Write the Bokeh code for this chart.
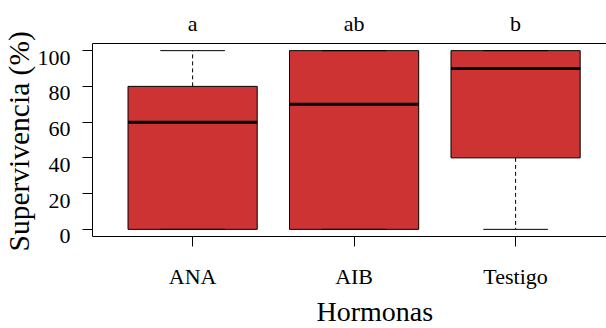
from bokeh.embed import file_html
from bokeh.models import ColumnDataSource, FixedTicker, LinearAxis, Range1d, Title
from bokeh.plotting import figure
from bokeh.resources import INLINE

# Survival (%) by hormone treatment: five-number summaries per group
hormonas = ["ANA", "AIB", "Testigo"]
letras = ["a", "ab", "b"]
minimo = [0, 0, 0]
q1 = [0, 0, 40]
mediana = [60, 70, 90]
q3 = [80, 100, 100]
maximo = [100, 100, 100]
y_ticks = [0, 20, 40, 60, 80, 100]

FONT = "Liberation Serif"
FILL = "#CD3333"
BOX_W = 0.8
STAPLE_W = 0.4

pos = list(range(1, len(hormonas) + 1))
X0, X1 = 0.38, 3.563
Y0, Y1 = -4, 104
FRAME_H = 193
LABEL_DROP = 7 * (Y1 - Y0) / FRAME_H   # y tick labels sit a little below their ticks

p = figure(
    width=606, height=328, output_backend="svg", toolbar_location=None,
    x_range=Range1d(X0, X1), y_range=Range1d(Y0, Y1),
    x_axis_location=None, y_axis_location=None,
    min_border_left=92, min_border_right=0, min_border_top=43, min_border_bottom=92,
)
p.extra_y_ranges = {"lab": Range1d(Y0 + LABEL_DROP, Y1 + LABEL_DROP)}
p.xgrid.visible = False
p.ygrid.visible = False
p.outline_line_color = None
p.background_fill_color = "white"
p.border_fill_color = "white"

src = ColumnDataSource(dict(
    x=pos, lo=minimo, q1=q1, med=mediana, q3=q3, hi=maximo,
    bl=[x - BOX_W / 2 for x in pos], br=[x + BOX_W / 2 for x in pos],
    sl=[x - STAPLE_W / 2 for x in pos], sr=[x + STAPLE_W / 2 for x in pos],
))

# whiskers (dashed)
p.segment(x0="x", y0="q3", x1="x", y1="hi", source=src,
          line_color="black", line_width=1, line_dash="4 3")
p.segment(x0="x", y0="q1", x1="x", y1="lo", source=src,
          line_color="black", line_width=1, line_dash="4 3")
# boxes
p.vbar(x="x", width=BOX_W, bottom="q1", top="q3", source=src,
       fill_color=FILL, line_color="black", line_width=1)
# medians
p.segment(x0="bl", y0="med", x1="br", y1="med", source=src,
          line_color="black", line_width=3)
# staples
p.segment(x0="sl", y0="hi", x1="sr", y1="hi", source=src,
          line_color="black", line_width=1)
p.segment(x0="sl", y0="lo", x1="sr", y1="lo", source=src,
          line_color="black", line_width=1)

no_minor = dict(minor_tick_out=0, minor_tick_in=0)

# left: frame line + tick marks (labels not drawn)
ax_ticks = LinearAxis(ticker=FixedTicker(ticks=y_ticks),
                      major_tick_out=10, major_tick_in=0, major_label_standoff=0,
                      major_label_text_font_size="1px", major_label_text_color=None,
                      axis_line_color="black", major_tick_line_color="black", **no_minor)
p.add_layout(ax_ticks, "left")

# left: tick labels on the slightly dropped range
ax_labels = LinearAxis(y_range_name="lab", ticker=FixedTicker(ticks=y_ticks),
                       major_tick_out=0, major_tick_in=0, major_label_standoff=12,
                       major_label_text_font=FONT, major_label_text_font_size="22px",
                       major_label_text_color="black",
                       axis_line_color=None, major_tick_line_color=None, **no_minor)
p.add_layout(ax_labels, "left")

# bottom: frame line, ticks and group names
ax_below = LinearAxis(ticker=FixedTicker(ticks=pos),
                      major_label_overrides={float(x): h for x, h in zip(pos, hormonas)},
                      major_tick_out=10, major_tick_in=0, major_label_standoff=17,
                      major_label_text_font=FONT, major_label_text_font_size="22px",
                      major_label_text_line_height=1.0, major_label_text_color="black",
                      axis_line_color="black", major_tick_line_color="black", **no_minor)
p.add_layout(ax_below, "below")

# top: frame line and significance letters
ax_above = LinearAxis(ticker=FixedTicker(ticks=pos),
                      major_label_overrides={float(x): t for x, t in zip(pos, letras)},
                      major_tick_out=0, major_tick_in=0, major_label_standoff=8,
                      major_label_text_font=FONT, major_label_text_font_size="22px",
                      major_label_text_color="black",
                      axis_line_color="black", major_tick_line_color=None, **no_minor)
p.add_layout(ax_above, "above")

# axis titles
p.add_layout(Title(text="Hormonas", align="left", offset=224, standoff=4,
                   text_font=FONT, text_font_size="28px", text_font_style="normal",
                   text_line_height=1.0, text_color="black"), "below")
p.add_layout(Title(text="Supervivencia (%)", align="left", offset=-15, standoff=0,
                   text_font=FONT, text_font_size="29.5px", text_font_style="normal",
                   text_line_height=1.0, text_color="black"), "left")

open("out.html", "w").write(file_html(p, INLINE))
